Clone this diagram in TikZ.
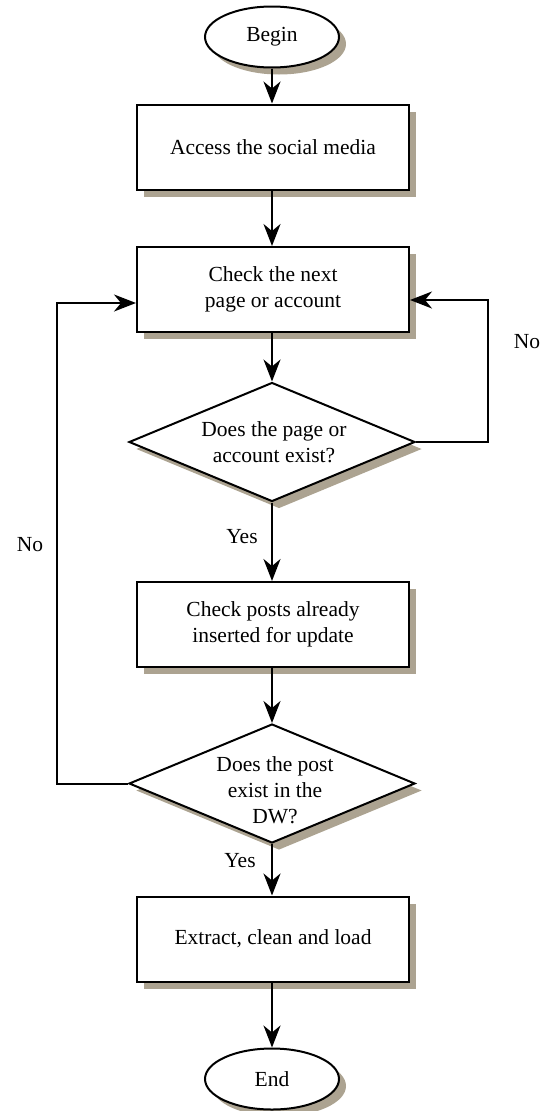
\documentclass[tikz,border=0pt]{standalone}
\usepackage{fontspec}
\setmainfont{Liberation Serif}
\usetikzlibrary{arrows.meta,shapes.geometric,shadows}
\definecolor{shadecol}{RGB}{172,163,145}
\tikzset{
  base/.style={draw=black, line width=2pt, fill=white,
    drop shadow={shadow xshift=7pt, shadow yshift=-7pt, fill=shadecol, opacity=1},
    font=\fontsize{21.5}{26.5}\selectfont, align=center, inner sep=0pt},
  terminal/.style={base, ellipse, minimum width=134pt, minimum height=61pt},
  process/.style={base, rectangle, minimum width=272pt, minimum height=85pt},
  decision/.style={base, diamond, minimum width=286pt, minimum height=119pt},
  dtext/.style={font=\fontsize{21.5}{26}\selectfont, align=center, inner sep=0pt},
  lbl/.style={font=\fontsize{21.5}{26}\selectfont, inner sep=0pt},
  arr/.style={line width=2pt, -{Stealth[length=22pt, width=17pt, inset=7pt]}}
}
\begin{document}
\begin{tikzpicture}[x=1pt, y=-1pt]
  \useasboundingbox (0,0) rectangle (547,1111);

  % flow nodes
  \node[terminal] (begin) at (272,37) {Begin};
  \node[process] (b1) at (273,147) {Access the social media};
  \node[process] (b2) at (273,289.5) {Check the next\\page or account};
  \node[decision] (d1) at (272,442) {};
  \node[dtext] (d1t) at (274,442) {Does the page or\\account exist?};
  \node[process] (b3) at (273,624.5) {Check posts already\\inserted for update};
  \node[decision] (d2) at (272,783.5) {};
  \node[dtext] (d2t) at (275,790) {Does the post\\exist in the\\DW?};
  \node[process] (b4) at (273,939) {Extract, clean and load};
  \node[terminal] (end) at (272,1079) {End};

  % main flow, all on one vertical axis
  \draw[arr] (begin.south) -- (begin.south |- b1.north);
  \draw[arr] (begin.south |- b1.south) -- (begin.south |- b2.north);
  \draw[arr] (d1.north |- b2.south) -- (d1.north);
  \draw[arr] (d1.south) -- (d1.south |- b3.north);
  \draw[arr] (d2.north |- b3.south) -- (d2.north);
  \draw[arr] (d2.south) -- (d2.south |- b4.north);
  \draw[arr] (end.north |- b4.south) -- (end.north);

  % return loops
  \coordinate (rr) at (488,300);
  \coordinate (ll) at (57,303);
  \draw[arr] (d1.east) -| (rr) -- (b2.east |- rr);
  \draw[arr] (d2.west) -| (ll) -- (b2.west |- ll);

  % branch labels
  \node[lbl] (yes1) at (242,537) {Yes};
  \node[lbl] (yes2) at (240,861) {Yes};
  \node[lbl] (no1) at (527,342) {No};
  \node[lbl] (no2) at (30,545) {No};
\end{tikzpicture}
\end{document}
